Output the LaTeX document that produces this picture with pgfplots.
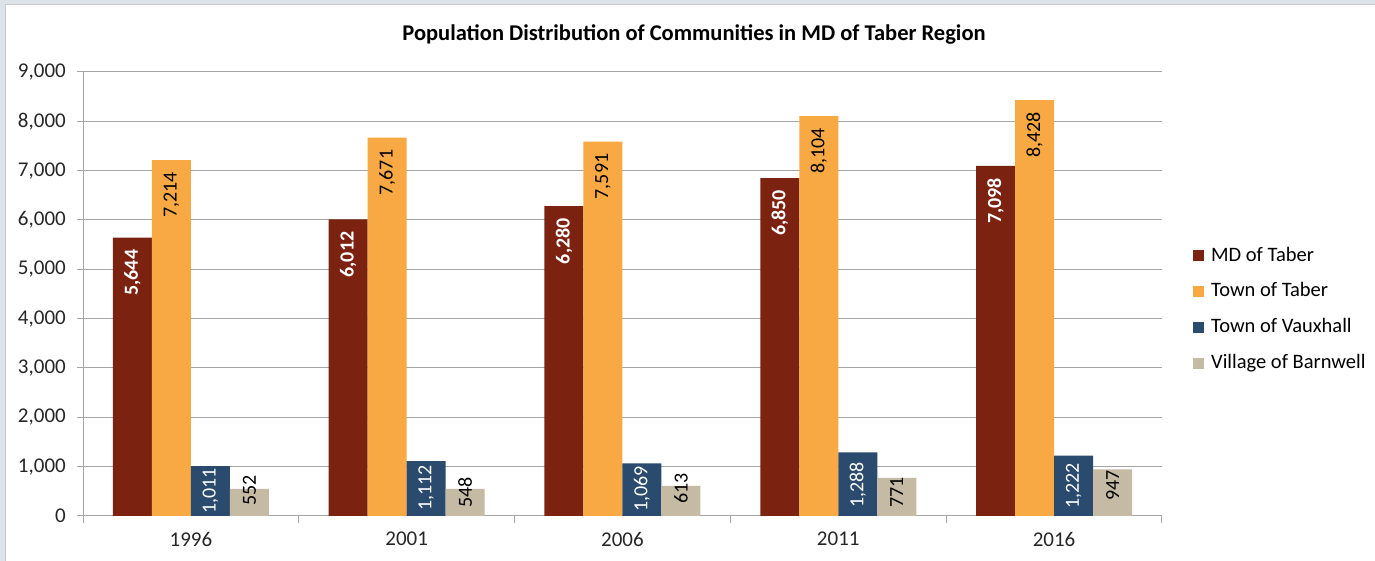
\documentclass[border=0pt]{standalone}
\usepackage{fontspec}
\setmainfont{Carlito}
\usepackage{pgfplots}
\pgfplotsset{compat=1.18}
\definecolor{mdc}{HTML}{7B2211}
\definecolor{ttc}{HTML}{F9A943}
\definecolor{tvc}{HTML}{2A4A6E}
\definecolor{vbc}{HTML}{C5BAA4}
\definecolor{gridc}{HTML}{A6A6A6}
\definecolor{outc}{HTML}{DEE3EA}
\definecolor{bordc}{HTML}{C8C8C8}
\newcommand\fs{\fontsize{21bp}{25bp}\selectfont}
\newcommand\fsl{\fontsize{20.5bp}{24.5bp}\selectfont}
\newcommand\fsn{\fontsize{20bp}{24bp}\selectfont}
\newcommand\fst{\fontsize{22.5bp}{27bp}\selectfont}
\pgfplotsset{sqleg/.style={legend image code/.code={\fill[##1,draw=none] (0bp,-5.5bp) rectangle (11bp,5.5bp);}}}
\begin{document}
\fs
\begin{tikzpicture}[x=1bp,y=1bp]
\path[use as bounding box] (0,0) rectangle (1375,561);
\fill[outc] (0,0) rectangle (1375,561);
\filldraw[fill=white,draw=bordc,line width=1bp] (5,-10) rectangle (1390,556);
\node[font=\bfseries\fst] at (694,526) {Population Distribution of Communities in MD of Taber Region};
\begin{axis}[
  at={(83bp,45bp)}, anchor=south west, scale only axis,
  width=1079bp, height=444bp,
  ymin=0, ymax=9000, xmin=-0.5, xmax=4.5,
  ytick={0,1000,...,9000},
  xtick={0,1,2,3,4},
  xticklabels={1996,2001,2006,2011,2016},
  minor xtick={-0.5,0.5,1.5,2.5,3.5,4.5},
  /pgf/number format/assume math mode=true,
  /pgf/number format/1000 sep={,},
  axis lines=left,
  axis line style={-,draw=gridc,line width=1bp},
  tick align=outside,
  major tick length=6bp, minor tick length=7bp,
  major x tick style={draw=none},
  minor x tick style={draw=gridc,line width=1bp},
  major y tick style={draw=gridc,line width=1bp},
  ymajorgrids,
  major grid style={draw=gridc,line width=1bp},
  ticklabel style={font=\fs, text=black!85},
  yticklabel style={xshift=-4bp},
  xticklabel style={yshift=-3bp},
  ybar=0pt, bar width=39bp,
  nodes near coords={\pgfmathprintnumber{\pgfplotspointmeta}},
  every node near coord/.append style={rotate=90, anchor=east, font=\fsn, inner xsep=12bp, inner ysep=1bp},
  legend style={at={(1.0287,0.4655)}, anchor=west, draw=none, fill=none, row sep=14.5bp, font=\fsl, inner sep=0pt,
    /tikz/every odd column/.append style={column sep=5bp}},
  legend cell align=left,
]
\addplot[bar shift=-58.5bp, fill=mdc, draw=none, sqleg, nodes near coords style={text=white, font=\bfseries\fsn}] coordinates {(0,5644) (1,6012) (2,6280) (3,6850) (4,7098)};
\addplot[bar shift=-19.5bp, fill=ttc, draw=none, sqleg, nodes near coords style={text=black}] coordinates {(0,7214) (1,7671) (2,7591) (3,8104) (4,8428)};
\addplot[bar shift=19.5bp, fill=tvc, draw=none, sqleg, nodes near coords=] coordinates {(0,1011) (1,1112) (2,1069) (3,1288) (4,1222)};
\addplot[bar shift=58.5bp, fill=vbc, draw=none, sqleg, nodes near coords=] coordinates {(0,552) (1,548) (2,613) (3,771) (4,947)};
\legend{MD of Taber, Town of Taber, Town of Vauxhall, Village of Barnwell}
% label positions for the short bars
\addplot[bar shift=19.5bp, draw=none, fill=none, forget plot, point meta=explicit,
  nodes near coords style={text=white, inner xsep=0pt}] table[meta=v] {
x y v
0 973 1011
1 1034 1112
2 1014 1069
3 1095 1288
4 1074 1222
};
\addplot[bar shift=58.5bp, draw=none, fill=none, forget plot, point meta=explicit,
  nodes near coords style={text=black, inner xsep=0pt}] table[meta=v] {
x y v
0 831 552
1 791 548
2 872 613
3 791 771
4 932 947
};
\end{axis}
\end{tikzpicture}
\end{document}
